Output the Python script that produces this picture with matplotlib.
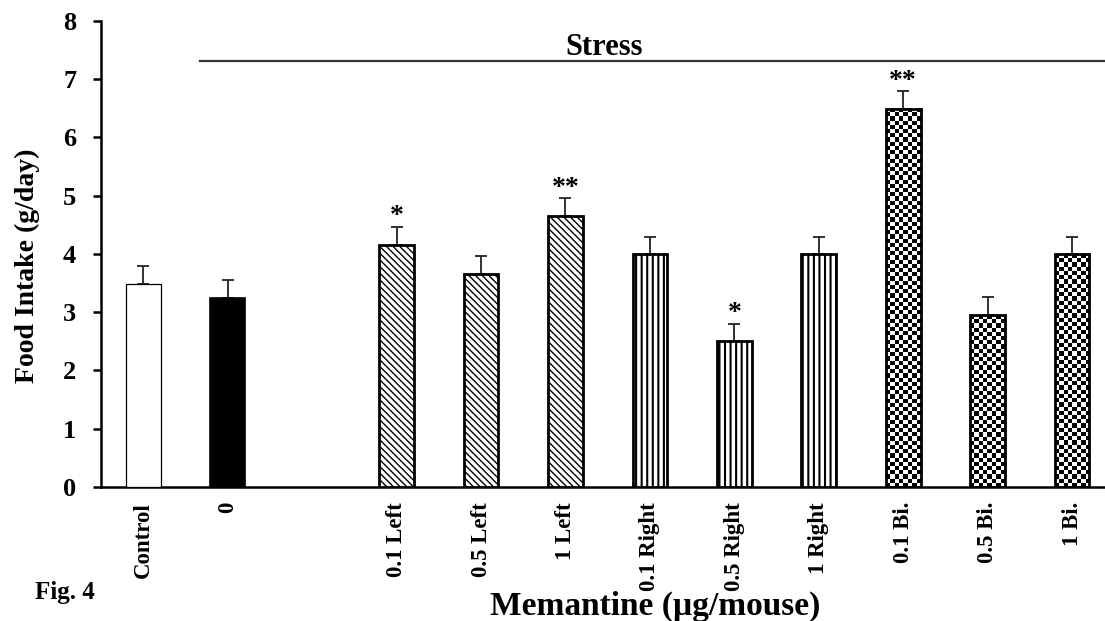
import numpy as np
import matplotlib
matplotlib.use("Agg")
import matplotlib.pyplot as plt

plt.rcParams['font.family'] = ['Liberation Serif', 'DejaVu Serif']
plt.rcParams['font.weight'] = 'bold'
plt.rcParams['hatch.linewidth'] = 1.0

# data
groups = ["Control", "0", "0.1 Left", "0.5 Left", "1 Left", "0.1 Right",
          "0.5 Right", "1 Right", "0.1 Bi.", "0.5 Bi.", "1 Bi."]
slots = [0, 1, 3, 4, 5, 6, 7, 8, 9, 10, 11]
intake = [3.48, 3.25, 4.15, 3.65, 4.66, 4.0, 2.5, 4.0, 6.49, 2.95, 4.0]
sem = [0.31, 0.31, 0.32, 0.32, 0.3, 0.3, 0.3, 0.3, 0.3, 0.31, 0.3]
stars = ["", "", "*", "", "**", "", "*", "", "**", "", ""]
side = ["control", "vehicle", "left", "left", "left", "right", "right",
        "right", "bi", "bi", "bi"]

fig = plt.figure(figsize=(11.05, 6.21), dpi=100)
ax = fig.add_axes([0.0911, 0.2158, 0.9089, 0.7504])

width = 0.41
cell_w = 4.2 / 84.4   # checker square, data units
cell_h = 4.2 / 58.25

for x, v, s in zip(slots, intake, side):
    if s == "control":
        ax.bar(x, v, width, color="white", edgecolor="black", lw=0.9, zorder=3)
    elif s == "vehicle":
        ax.bar(x, v, width, color="black", edgecolor="black", lw=1.2, zorder=3)
    elif s == "left":
        ax.bar(x, v, width, color="white", edgecolor="black", hatch="\\" * 5,
               lw=2, zorder=3)
    elif s == "right":
        b = ax.bar(x, v, width, color="white", edgecolor="black", hatch="|||",
                   lw=2, zorder=3)
        for p in b:
            if hasattr(p, "set_hatch_linewidth"):
                p.set_hatch_linewidth(1.5)
    else:
        # checkerboard fill
        ncol = max(1, int(round(width / cell_w)))
        nrow = max(1, int(round(v / cell_h)))
        pattern = np.add.outer(np.arange(nrow), np.arange(ncol)) % 2
        ax.imshow(pattern, cmap="gray", origin="lower", aspect="auto",
                  interpolation="nearest",
                  extent=(x - width / 2, x + width / 2, 0, v), zorder=2)
        ax.bar(x, v, width, color="none", edgecolor="black", lw=2, zorder=3)

ax.errorbar(slots, intake, yerr=[np.zeros(len(sem)), sem], fmt="none",
            ecolor="#222222", elinewidth=1.3, capsize=4.5, capthick=1.3,
            zorder=2.5)

for x, v, e, st in zip(slots, intake, sem, stars):
    if st:
        ax.text(x, v + e + 0.06, st, ha="center", va="baseline",
                fontsize=20, fontweight="bold")

# stress bracket
ax.plot([0.67, 11.39], [7.31, 7.31], color="#333333", lw=1.6, clip_on=False)
ax.text(5.46, 7.55, "Stress", ha="center", va="center", fontsize=22,
        fontweight="bold")

ax.set_xlim(-0.505, 11.39)
ax.set_ylim(0, 8)
ax.spines[["top", "right"]].set_visible(False)
ax.spines["left"].set_linewidth(1.8)
ax.spines["bottom"].set_linewidth(1.8)

ax.set_yticks(range(9))
ax.tick_params(axis="y", length=6, width=1.8, pad=11.5, labelsize=19)
ax.set_xticks(slots)
ax.set_xticklabels(groups, rotation=90, fontsize=16.5)
ax.tick_params(axis="x", length=0, pad=10.8)

fig.text(27 / 1105, 1 - 266 / 621, "Food Intake (g/day)", rotation=90,
         ha="center", va="center", fontsize=20, fontweight="bold")
fig.text(490 / 1105, 1 - 606 / 621, "Memantine (µg/mouse)", ha="left",
         va="center", fontsize=24, fontweight="bold")
fig.text(35 / 1105, 1 - 592 / 621, "Fig. 4", ha="left", va="center",
         fontsize=18, fontweight="bold")

fig.savefig("out.png", dpi=100)
